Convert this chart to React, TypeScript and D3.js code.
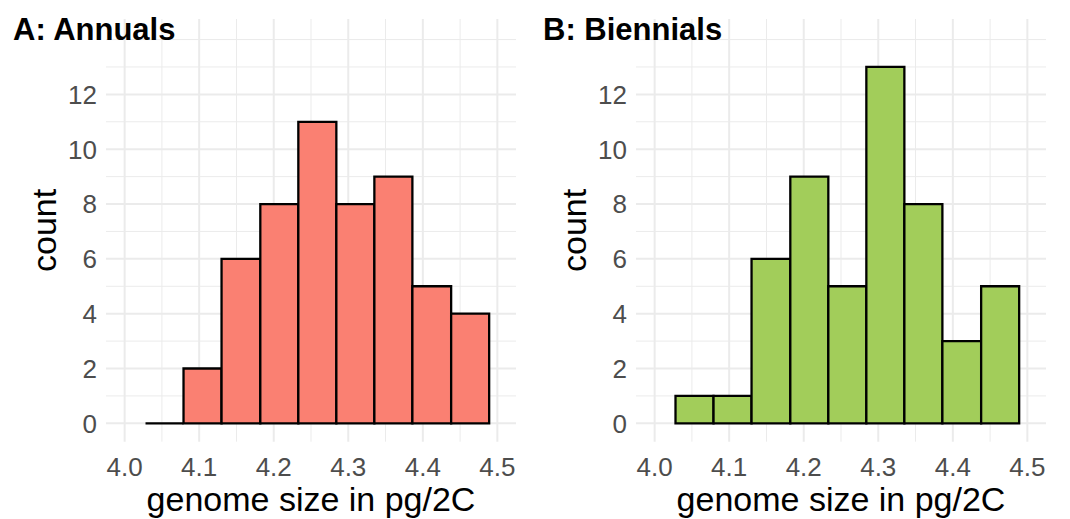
import * as d3 from 'd3';

const binEdges = [4.028, 4.079, 4.130, 4.182, 4.233, 4.284, 4.335, 4.386, 4.438, 4.489];
const annualCounts = [0, 2, 6, 8, 11, 8, 9, 5, 4];
const biennialCounts = [1, 1, 6, 9, 5, 13, 8, 3, 5];
const xTicks = [4.0, 4.1, 4.2, 4.3, 4.4, 4.5];
const xMinor = [4.05, 4.15, 4.25, 4.35, 4.45];
const yTicks = [0, 2, 4, 6, 8, 10, 12];
const yMinor = [1, 3, 5, 7, 9, 11, 13, 14];

const FONT = '"Liberation Sans", Arial, sans-serif';

function Histogram({ left, title, counts, fill }: { left: number; title: string; counts: number[]; fill: string }) {
  const x = d3.scaleLinear().domain([3.975, 4.525]).range([left + 106, left + 516]);
  const y = d3.scaleLinear().domain([-0.67, 14.75]).range([441.7, 19]);
  const [x0, x1] = x.range();
  const [y0, y1] = y.range();

  // bars as paths so that a zero count still draws its outline
  const barPath = (i: number) => {
    const p = d3.path();
    p.rect(x(binEdges[i]), y(counts[i]), x(binEdges[i + 1]) - x(binEdges[i]), y(0) - y(counts[i]));
    return p.toString();
  };

  return (
    <g>
      {yMinor.map((t) => (
        <line key={'ym' + t} x1={x0} x2={x1} y1={y(t)} y2={y(t)} stroke="#ebebeb" strokeWidth={1} />
      ))}
      {xMinor.map((t) => (
        <line key={'xm' + t} x1={x(t)} x2={x(t)} y1={y0} y2={y1} stroke="#ebebeb" strokeWidth={1} />
      ))}
      {yTicks.map((t) => (
        <line key={'y' + t} x1={x0} x2={x1} y1={y(t)} y2={y(t)} stroke="#ebebeb" strokeWidth={2} />
      ))}
      {xTicks.map((t) => (
        <line key={'x' + t} x1={x(t)} x2={x(t)} y1={y0} y2={y1} stroke="#ebebeb" strokeWidth={2} />
      ))}
      {counts.map((_, i) => (
        <path key={i} d={barPath(i)} fill={fill} stroke="#000" strokeWidth={2.3} />
      ))}
      {yTicks.map((t) => (
        <text key={'yl' + t} x={x0 - 9} y={y(t)} dy="0.36em" textAnchor="end" fontSize={26} fill="#4d4d4d">
          {t}
        </text>
      ))}
      {xTicks.map((t) => (
        <text key={'xl' + t} x={x(t)} y={476} textAnchor="middle" fontSize={26} fill="#4d4d4d">
          {d3.format('.1f')(t)}
        </text>
      ))}
      <text x={(x0 + x1) / 2} y={511} textAnchor="middle" fontSize={34} fill="#000">
        genome size in pg/2C
      </text>
      <text
        transform={`translate(${left + 56},${(y0 + y1) / 2}) rotate(-90)`}
        textAnchor="middle"
        fontSize={34}
        fill="#000"
      >
        count
      </text>
      <text x={left + 13} y={40} fontSize={31} fontWeight="bold" fill="#000">
        {title}
      </text>
    </g>
  );
}

export default function App() {
  return (
    <svg
      width={1070}
      height={519}
      style={{ position: 'absolute', left: 0, top: 0, background: '#fff', fontFamily: FONT }}
    >
      <rect width={1070} height={519} fill="#fff" />
      <Histogram left={0} title="A: Annuals" counts={annualCounts} fill="#fa8072" />
      <Histogram left={530} title="B: Biennials" counts={biennialCounts} fill="#a2cd5a" />
    </svg>
  );
}
